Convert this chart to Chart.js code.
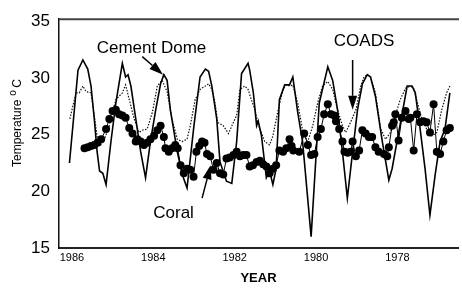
<!DOCTYPE html>
<html lang="en">
<head>
<meta charset="UTF-8">
<title>Cement Dome, COADS and Coral temperatures</title>
<script src="https://cdn.jsdelivr.net/npm/chart.js"></script>
<style>
    html, body {
        margin: 0;
        padding: 0;
        background: #fff;
    }
    .wrap {
        width: 462px;
        height: 289px;
    }
</style>
</head>
<body>
<div class="wrap"><canvas id="tempChart" width="462" height="289"></canvas></div>
<script>
// Tick labels (x axis runs backwards: 1986 on the left)
const yearTicks = [1978, 1980, 1982, 1984, 1986];
const tempTicks = [15, 20, 25, 30, 35];

// Cement Dome (solid line)
const cementYears = [1986.06, 1985.85, 1985.73, 1985.61, 1985.53, 1985.45, 1985.38, 1985.32, 1985.24, 1985.16,
    1985.04, 1984.92, 1984.76, 1984.68, 1984.62, 1984.55, 1984.43, 1984.31, 1984.19, 1984.07,
    1983.94, 1983.82, 1983.74, 1983.66, 1983.58, 1983.41, 1983.29, 1983.17, 1983.0, 1982.85,
    1982.72, 1982.64, 1982.56, 1982.44, 1982.36, 1982.2, 1982.07, 1981.95, 1981.83, 1981.67,
    1981.63, 1981.54, 1981.46, 1981.42, 1981.34, 1981.22, 1981.14, 1981.06, 1980.98, 1980.9,
    1980.77, 1980.65, 1980.57, 1980.45, 1980.33, 1980.12, 1979.92, 1979.71, 1979.59, 1979.47,
    1979.35, 1979.23, 1979.1, 1978.98, 1978.86, 1978.74, 1978.66, 1978.54, 1978.37, 1978.21,
    1978.13, 1978.01, 1977.89, 1977.76, 1977.64, 1977.56, 1977.44, 1977.32, 1977.2, 1977.07,
    1976.95, 1976.83, 1976.71];
const cementTemps = [22.5, 30.7, 31.6, 30.8, 29.3, 26.4, 23.5, 21.8, 21.6, 20.6,
    24.4, 27.8, 31.3, 30.1, 30.3, 29.3, 26.4, 23.5, 21.2, 24.4,
    27.2, 29.5, 30.3, 29.8, 27.2, 23.5, 21.5, 20.3, 25.8, 30.1,
    30.8, 30.6, 29.3, 26.4, 22.6, 20.9, 20.7, 24.4, 30.4, 31.3,
    30.7, 28.7, 25.8, 26.2, 24.9, 21.2, 21.8, 20.6, 22.0, 28.1,
    29.4, 29.4, 30.1, 27.0, 24.4, 16.0, 27.8, 31.0, 29.8, 27.2,
    23.5, 19.4, 23.5, 27.2, 29.5, 30.3, 30.1, 28.4, 24.4, 21.0,
    22.0, 24.4, 26.7, 29.3, 29.3, 28.7, 25.5, 22.0, 17.9, 21.5,
    24.4, 25.5, 28.7];

// COADS (dotted line)
const coadsYears = [1986.05, 1985.9, 1985.82, 1985.73, 1985.65, 1985.53, 1985.45, 1985.37, 1985.29, 1985.2,
    1985.08, 1984.92, 1984.76, 1984.68, 1984.59, 1984.47, 1984.35, 1984.27, 1984.15, 1984.02,
    1983.9, 1983.78, 1983.66, 1983.54, 1983.41, 1983.29, 1983.17, 1983.09, 1982.97, 1982.85,
    1982.72, 1982.64, 1982.56, 1982.48, 1982.42, 1982.28, 1982.15, 1982.03, 1981.95, 1981.87,
    1981.75, 1981.67, 1981.59, 1981.5, 1981.42, 1981.26, 1981.14, 1981.06, 1980.93, 1980.81,
    1980.73, 1980.65, 1980.57, 1980.45, 1980.32, 1980.2, 1980.08, 1979.96, 1979.84, 1979.71,
    1979.59, 1979.47, 1979.35, 1979.27, 1979.15, 1979.02, 1978.9, 1978.82, 1978.74, 1978.66,
    1978.54, 1978.41, 1978.29, 1978.17, 1978.05, 1977.93, 1977.8, 1977.68, 1977.6, 1977.52,
    1977.4, 1977.28, 1977.15, 1977.03, 1976.91, 1976.79, 1976.71];
const coadsTemps = [26.4, 28.7, 28.7, 29.3, 28.8, 28.7, 26.7, 24.6, 24.1, 24.6,
    25.8, 28.1, 28.7, 29.4, 28.1, 26.4, 25.2, 25.4, 25.5, 27.0,
    29.3, 29.8, 28.8, 26.4, 24.6, 24.4, 24.6, 25.8, 28.1, 29.0,
    29.3, 29.5, 29.0, 27.8, 26.1, 25.8, 25.1, 26.1, 26.7, 29.0,
    29.3, 29.0, 28.1, 27.2, 25.9, 24.4, 24.1, 24.9, 27.2, 29.0,
    29.4, 29.3, 29.4, 27.8, 25.2, 24.4, 25.8, 27.8, 29.3, 29.7,
    29.0, 27.2, 25.8, 25.2, 26.1, 27.2, 29.3, 30.1, 30.3, 30.1,
    28.7, 25.5, 24.6, 25.2, 26.7, 28.1, 29.1, 29.3, 29.1, 28.0,
    26.4, 25.5, 24.9, 25.2, 27.2, 28.7, 29.3];

// Coral (dots joined by a thin line)
const coralYears = [1985.69, 1985.61, 1985.53, 1985.45, 1985.37, 1985.28, 1985.16, 1985.08, 1985.0, 1984.92,
    1984.84, 1984.76, 1984.68, 1984.59, 1984.51, 1984.43, 1984.39, 1984.31, 1984.23, 1984.15,
    1984.07, 1983.98, 1983.9, 1983.82, 1983.74, 1983.7, 1983.62, 1983.54, 1983.46, 1983.4,
    1983.33, 1983.25, 1983.17, 1983.09, 1983.01, 1982.94, 1982.87, 1982.8, 1982.74, 1982.68,
    1982.6, 1982.52, 1982.44, 1982.36, 1982.28, 1982.2, 1982.12, 1982.03, 1981.95, 1981.87,
    1981.79, 1981.71, 1981.63, 1981.55, 1981.46, 1981.38, 1981.3, 1981.22, 1981.14, 1981.06,
    1980.98, 1980.9, 1980.81, 1980.73, 1980.65, 1980.6, 1980.56, 1980.41, 1980.29, 1980.2,
    1980.12, 1980.04, 1979.96, 1979.88, 1979.8, 1979.71, 1979.63, 1979.55, 1979.51, 1979.43,
    1979.35, 1979.3, 1979.22, 1979.15, 1979.1, 1979.02, 1978.94, 1978.86, 1978.78, 1978.7,
    1978.62, 1978.54, 1978.46, 1978.33, 1978.25, 1978.21, 1978.13, 1978.09, 1978.05, 1977.97,
    1977.89, 1977.8, 1977.72, 1977.68, 1977.6, 1977.52, 1977.44, 1977.36, 1977.28, 1977.2,
    1977.11, 1977.03, 1976.95, 1976.87, 1976.79, 1976.71];
const coralTemps = [23.8, 23.9, 24.0, 24.1, 24.3, 24.6, 25.5, 26.4, 27.1, 27.2,
    26.8, 26.7, 26.5, 25.6, 25.1, 24.4, 24.6, 24.4, 24.1, 24.3,
    24.6, 24.9, 25.4, 25.8, 24.8, 23.8, 23.5, 23.8, 24.1, 23.8,
    22.3, 21.6, 22.0, 21.9, 21.3, 23.5, 24.0, 24.4, 24.3, 23.3,
    23.1, 21.9, 22.5, 21.6, 21.5, 22.9, 23.0, 23.2, 23.5, 23.1,
    23.2, 23.2, 22.2, 22.3, 22.6, 22.7, 22.4, 22.2, 21.6, 22.0,
    22.3, 23.6, 23.5, 23.8, 24.6, 24.0, 23.6, 23.5, 25.1, 24.1,
    23.2, 23.3, 24.8, 25.5, 26.8, 27.7, 26.8, 26.7, 26.2, 25.5,
    24.4, 23.5, 23.4, 23.5, 24.4, 23.1, 23.6, 25.4, 25.1, 24.8,
    24.8, 23.9, 23.5, 23.3, 23.1, 23.9, 25.8, 26.1, 26.8, 24.5,
    26.5, 27.1, 26.4, 26.5, 23.6, 26.8, 26.1, 26.2, 26.1, 25.2,
    27.7, 23.5, 23.3, 24.4, 25.4, 25.6];

const toPoints = (xs, ys) => xs.map((x, i) => ({ x: x, y: ys[i] }));

const FONT = '"Liberation Sans", Arial, sans-serif';

// Text labels and arrows, anchored in data units
const notes = [
    { text: 'Cement Dome', x: 1985.39, y: 32.65, align: 'left' },
    { text: 'COADS', x: 1978.82, y: 33.25, align: 'center' },
    { text: 'Coral', x: 1984.0, y: 18.1, align: 'left' }
];
const arrows = [
    { from: [1984.27, 31.9], to: [1983.76, 30.3] },
    { from: [1979.1, 31.6], to: [1979.1, 27.2] },
    { from: [1982.8, 19.4], to: [1982.59, 22.3] }
];

function drawArrow(ctx, x1, y1, x2, y2) {
    const len = 14, half = 4.5;
    const ang = Math.atan2(y2 - y1, x2 - x1);
    const bx = x2 - len * Math.cos(ang), by = y2 - len * Math.sin(ang);
    ctx.beginPath();
    ctx.moveTo(x1, y1);
    ctx.lineTo(bx, by);
    ctx.stroke();
    ctx.beginPath();
    ctx.moveTo(x2, y2);
    ctx.lineTo(bx + half * Math.sin(ang), by - half * Math.cos(ang));
    ctx.lineTo(bx - half * Math.sin(ang), by + half * Math.cos(ang));
    ctx.closePath();
    ctx.fill();
}

const extras = {
    id: 'extras',
    afterDraw(chart) {
        const ctx = chart.ctx;
        const area = chart.chartArea;
        const xs = chart.scales.x, ys = chart.scales.y;
        ctx.save();

        // top frame line
        ctx.strokeStyle = '#444';
        ctx.lineWidth = 2;
        ctx.beginPath();
        ctx.moveTo(area.left, area.top);
        ctx.lineTo(area.right + 1, area.top);
        ctx.stroke();

        // annotations
        ctx.fillStyle = '#000';
        ctx.font = '17px ' + FONT;
        ctx.textBaseline = 'middle';
        notes.forEach(n => {
            ctx.textAlign = n.align;
            ctx.fillText(n.text, xs.getPixelForValue(n.x), ys.getPixelForValue(n.y));
        });
        ctx.strokeStyle = '#000';
        ctx.lineWidth = 1.5;
        arrows.forEach(a => {
            drawArrow(ctx,
                xs.getPixelForValue(a.from[0]), ys.getPixelForValue(a.from[1]),
                xs.getPixelForValue(a.to[0]), ys.getPixelForValue(a.to[1]));
        });

        // y axis title with superscript degree mark
        ctx.translate(21, 167);
        ctx.rotate(-Math.PI / 2);
        ctx.textAlign = 'left';
        ctx.textBaseline = 'alphabetic';
        ctx.font = '12px ' + FONT;
        ctx.fillText('Temperature', 0, 0);
        const w = ctx.measureText('Temperature').width;
        ctx.font = '10px ' + FONT;
        ctx.fillText('o', w + 4, -5);
        ctx.font = '12px ' + FONT;
        ctx.fillText('C', w + 12, 0);
        ctx.restore();
    }
};

const chart = new Chart(document.getElementById('tempChart'), {
    type: 'line',
    data: {
        datasets: [
            {
                label: 'Coral',
                data: toPoints(coralYears, coralTemps),
                borderColor: '#000',
                borderWidth: 1,
                pointRadius: 4,
                pointBackgroundColor: '#000',
                pointBorderWidth: 0,
                tension: 0
            },
            {
                label: 'Cement Dome',
                data: toPoints(cementYears, cementTemps),
                borderColor: '#000',
                borderWidth: 1.6,
                pointRadius: 0,
                tension: 0
            },
            {
                label: 'COADS',
                data: toPoints(coadsYears, coadsTemps),
                borderColor: '#111',
                borderWidth: 1.2,
                borderDash: [1.5, 1.5],
                pointRadius: 0,
                tension: 0
            }
        ]
    },
    options: {
        responsive: false,
        animation: false,
        devicePixelRatio: 1,
        layout: { padding: { top: 15, right: 1, left: 0, bottom: 0 } },
        plugins: {
            legend: { display: false },
            tooltip: { enabled: false }
        },
        scales: {
            x: {
                type: 'linear',
                reverse: true,
                min: 1976.51,
                max: 1986.317,
                grid: { display: false, drawTicks: false },
                border: { display: true, color: '#222', width: 2 },
                afterBuildTicks: s => { s.ticks = yearTicks.map(v => ({ value: v })); },
                afterFit: s => { s.height = 41; },
                ticks: {
                    color: '#000',
                    padding: 3,
                    maxRotation: 0,
                    font: { family: FONT, size: 11 },
                    callback: v => String(v)
                },
                title: {
                    display: true,
                    text: 'YEAR',
                    color: '#000',
                    font: { family: FONT, size: 13, weight: 'bold' },
                    padding: { top: 0, bottom: 3 }
                }
            },
            y: {
                min: 15,
                max: 35.2,
                grid: { display: false, drawTicks: false },
                border: { display: true, color: '#111', width: 1.5 },
                afterBuildTicks: s => { s.ticks = tempTicks.map(v => ({ value: v })); },
                afterFit: s => { s.width = 59; },
                ticks: {
                    color: '#000',
                    padding: 9,
                    font: { family: FONT, size: 17 }
                }
            }
        }
    },
    plugins: [extras]
});
</script>
</body>
</html>
